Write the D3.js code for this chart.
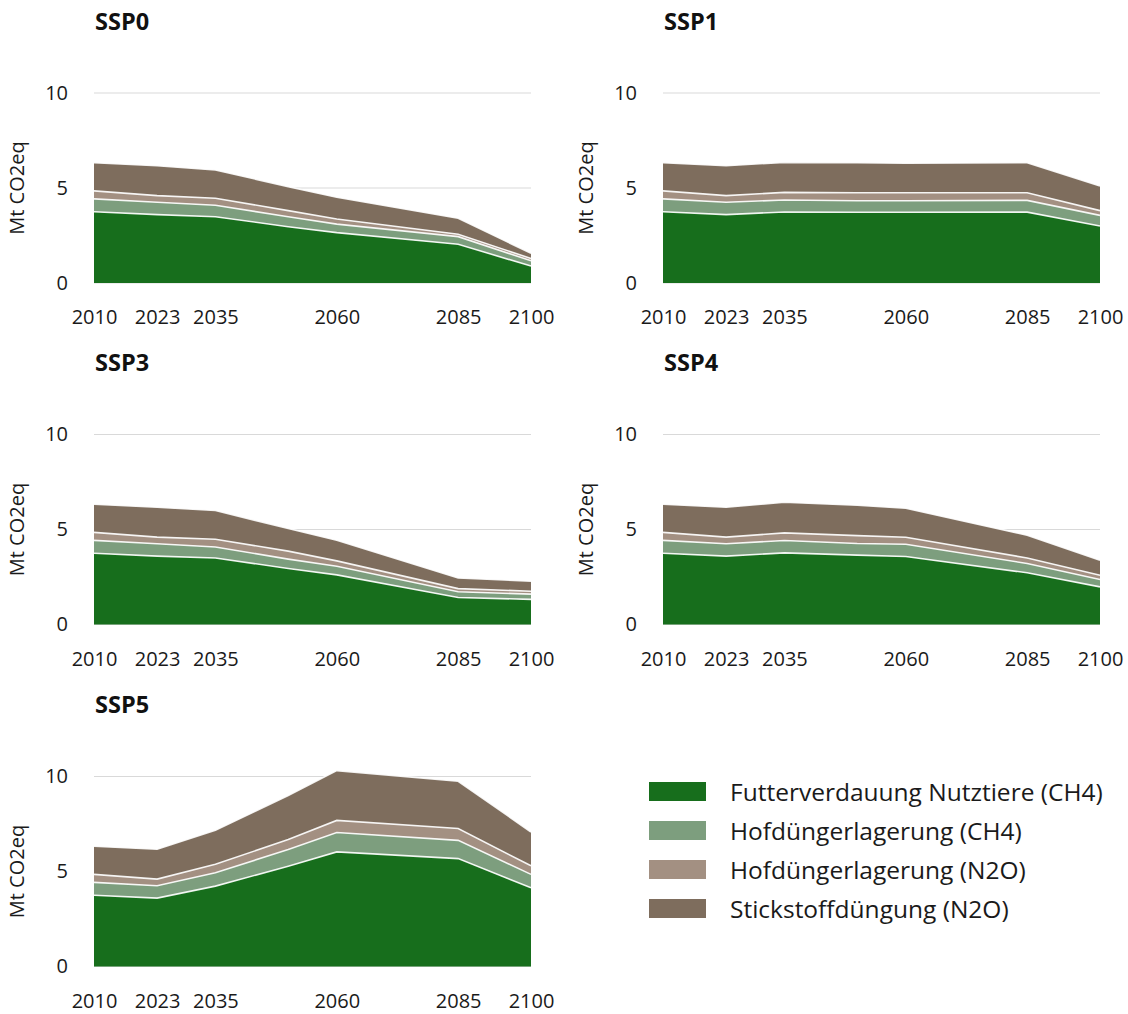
<!DOCTYPE html>
<html>
<head>
<meta charset="utf-8">
<script src="https://cdn.jsdelivr.net/npm/d3@7"></script>
<style>
  html, body { margin: 0; padding: 0; background: #ffffff; }
  svg { display: block; font-family: "Open Sans", "DejaVu Sans", sans-serif; }
</style>
</head>
<body>
<svg id="chart" width="1128" height="1014"></svg>
<script>
// Years with model values, and the years that carry axis labels
const years = [2010, 2023, 2035, 2050, 2060, 2085, 2100];
const tickYears = [2010, 2023, 2035, 2060, 2085, 2100];
const yTicks = [0, 5, 10];

const seriesNames = [
  "Futterverdauung Nutztiere (CH4)",
  "Hofdüngerlagerung (CH4)",
  "Hofdüngerlagerung (N2O)",
  "Stickstoffdüngung (N2O)"
];
const seriesColors = ["#176e1c", "#7d9e7e", "#a39082", "#7e6d5d"];

const scenarios = ["SSP0", "SSP1", "SSP3", "SSP4", "SSP5"];

// Emissions in Mt CO2eq per source, one array per scenario and source
const ssp0Enteric    = [3.75, 3.60, 3.49, 2.96, 2.65, 2.04, 0.89];
const ssp0ManureCH4  = [0.68, 0.65, 0.60, 0.53, 0.45, 0.40, 0.28];
const ssp0ManureN2O  = [0.42, 0.35, 0.37, 0.32, 0.27, 0.13, 0.12];
const ssp0Fertilizer = [1.48, 1.57, 1.49, 1.26, 1.14, 0.84, 0.27];

const ssp1Enteric    = [3.75, 3.60, 3.74, 3.72, 3.72, 3.73, 3.00];
const ssp1ManureCH4  = [0.68, 0.65, 0.63, 0.61, 0.61, 0.62, 0.56];
const ssp1ManureN2O  = [0.42, 0.35, 0.40, 0.42, 0.42, 0.40, 0.25];
const ssp1Fertilizer = [1.48, 1.57, 1.58, 1.58, 1.55, 1.58, 1.29];

const ssp3Enteric    = [3.75, 3.60, 3.50, 2.95, 2.61, 1.42, 1.32];
const ssp3ManureCH4  = [0.68, 0.65, 0.58, 0.49, 0.46, 0.30, 0.28];
const ssp3ManureN2O  = [0.42, 0.35, 0.41, 0.42, 0.28, 0.17, 0.15];
const ssp3Fertilizer = [1.48, 1.57, 1.51, 1.19, 1.09, 0.56, 0.53];

const ssp4Enteric    = [3.75, 3.60, 3.77, 3.65, 3.58, 2.72, 1.98];
const ssp4ManureCH4  = [0.68, 0.65, 0.65, 0.61, 0.64, 0.49, 0.39];
const ssp4ManureN2O  = [0.42, 0.35, 0.40, 0.42, 0.37, 0.29, 0.22];
const ssp4Fertilizer = [1.48, 1.57, 1.62, 1.60, 1.53, 1.20, 0.79];

const ssp5Enteric    = [3.75, 3.60, 4.23, 5.28, 6.03, 5.68, 4.14];
const ssp5ManureCH4  = [0.68, 0.65, 0.70, 0.88, 1.02, 0.96, 0.71];
const ssp5ManureN2O  = [0.42, 0.35, 0.45, 0.52, 0.64, 0.62, 0.45];
const ssp5Fertilizer = [1.48, 1.57, 1.79, 2.32, 2.62, 2.49, 1.78];

const scenarioSeries = {
  SSP0: [ssp0Enteric, ssp0ManureCH4, ssp0ManureN2O, ssp0Fertilizer],
  SSP1: [ssp1Enteric, ssp1ManureCH4, ssp1ManureN2O, ssp1Fertilizer],
  SSP3: [ssp3Enteric, ssp3ManureCH4, ssp3ManureN2O, ssp3Fertilizer],
  SSP4: [ssp4Enteric, ssp4ManureCH4, ssp4ManureN2O, ssp4Fertilizer],
  SSP5: [ssp5Enteric, ssp5ManureCH4, ssp5ManureN2O, ssp5Fertilizer]
};

// Layout of the small-multiple grid
const plotW = 437, plotH10 = 190;
const colX = [94, 663];
const rowY0 = [283, 624.5, 966.5];

const svg = d3.select("#chart");

scenarios.forEach((name, i) => {
  const col = i % 2, row = Math.floor(i / 2);
  const left = colX[col], base = rowY0[row];

  const x = d3.scaleLinear().domain([2010, 2100]).range([left, left + plotW]);
  const y = d3.scaleLinear().domain([0, 10]).range([base, base - plotH10]);

  const g = svg.append("g");

  // gridlines
  g.selectAll("line.grid").data(yTicks).join("line")
    .attr("class", "grid")
    .attr("x1", left).attr("x2", left + plotW)
    .attr("y1", d => y(d)).attr("y2", d => y(d))
    .attr("stroke", "#d9d9d9").attr("stroke-width", 1);

  // stacked areas
  const rows = years.map((yr, k) => {
    const o = { year: yr };
    scenarioSeries[name].forEach((s, j) => { o["s" + j] = s[k]; });
    return o;
  });
  const stack = d3.stack().keys(seriesNames.map((_, j) => "s" + j));
  const layers = stack(rows);

  const area = d3.area()
    .x(d => x(d.data.year))
    .y0(d => y(d[0]))
    .y1(d => y(d[1]));
  const topLine = d3.line()
    .x(d => x(d.data.year))
    .y(d => y(d[1]));

  g.selectAll("path.layer").data(layers).join("path")
    .attr("class", "layer")
    .attr("d", area)
    .attr("fill", (d, j) => seriesColors[j]);

  g.selectAll("path.edge").data(layers).join("path")
    .attr("class", "edge")
    .attr("d", topLine)
    .attr("fill", "none")
    .attr("stroke", "#ffffff")
    .attr("stroke-width", 1.6)
    .attr("stroke-opacity", 0.9);

  // y axis (labels only)
  const yAxis = d3.axisLeft(y).tickValues(yTicks).tickSize(0).tickPadding(26)
    .tickFormat(d3.format("d"));
  g.append("g").attr("transform", `translate(${left},0)`).call(yAxis)
    .call(a => a.select(".domain").remove())
    .call(a => a.selectAll("text")
      .attr("font-size", 20).attr("fill", "#1a1a1a")
      .attr("font-family", "Open Sans, sans-serif"));

  // x axis (labels only)
  const xAxis = d3.axisBottom(x).tickValues(tickYears).tickSize(0).tickPadding(27)
    .tickFormat(d3.format("d"));
  g.append("g").attr("transform", `translate(0,${base})`).call(xAxis)
    .call(a => a.select(".domain").remove())
    .call(a => a.selectAll("text")
      .attr("font-size", 20).attr("fill", "#1a1a1a")
      .attr("font-family", "Open Sans, sans-serif"));

  // axis title
  g.append("text")
    .attr("transform", `translate(${left - 70},${base - 95}) rotate(-90)`)
    .attr("text-anchor", "middle")
    .attr("font-size", 20)
    .attr("fill", "#1a1a1a")
    .text("Mt CO2eq");

  // panel title
  g.append("text")
    .attr("x", left + 1)
    .attr("y", base - 253.5)
    .attr("font-size", 23.5)
    .attr("font-weight", "bold")
    .attr("fill", "#111")
    .text(name);
});

// legend
const legend = svg.append("g").attr("transform", "translate(649,782)");
seriesNames.forEach((n, j) => {
  const gy = j * 39;
  legend.append("rect")
    .attr("x", 0).attr("y", gy)
    .attr("width", 57).attr("height", 19)
    .attr("fill", seriesColors[j]);
  legend.append("text")
    .attr("x", 81).attr("y", gy + 10)
    .attr("dy", "0.35em")
    .attr("font-size", 24.5)
    .attr("fill", "#1a1a1a")
    .text(n);
});
</script>
</body>
</html>
